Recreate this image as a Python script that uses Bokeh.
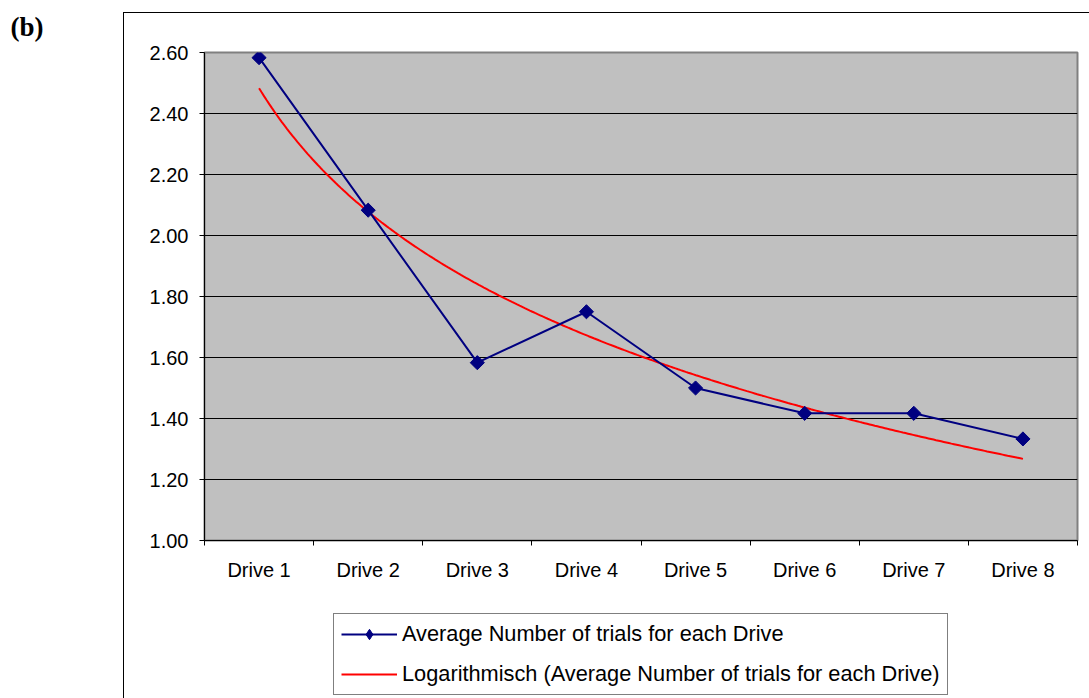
import numpy as np
from bokeh.plotting import figure
from bokeh.layouts import column
from bokeh.models import (FixedTicker, Legend, LegendItem, NumeralTickFormatter)
from bokeh.embed import file_html
from bokeh.resources import INLINE

# ---- data ----
drives = ["Drive 1", "Drive 2", "Drive 3", "Drive 4",
          "Drive 5", "Drive 6", "Drive 7", "Drive 8"]
avg_trials = [2.583, 2.083, 1.583, 1.75, 1.5, 1.417, 1.417, 1.333]
y_ticks = [1.0, 1.2, 1.4, 1.6, 1.8, 2.0, 2.2, 2.4, 2.6]
series_label = "Average Number of trials for each Drive"
trend_label = "Logarithmisch (Average Number of trials for each Drive)"
panel_label = "(b)"

FONT = "Liberation Sans"
NAVY = "#000080"
RED = "#ff0000"

x = np.arange(1, len(drives) + 1)
# logarithmic trendline fitted to the data (as the spreadsheet does)
a, b = np.polyfit(np.log(x), np.array(avg_trials), 1)
xt = np.linspace(1, len(drives), 300)
yt = a * np.log(xt) + b

p = figure(width=1089, height=610,
           x_range=(0.5, len(drives) + 0.5), y_range=(y_ticks[0], y_ticks[-1]),
           output_backend="svg", toolbar_location=None,
           min_border_left=204, min_border_right=12,
           min_border_top=52, min_border_bottom=70)

# outer chart-area frame (drawn behind the transparent canvas border)
p.styles = {
    "background-color": "white",
    "background-image": "linear-gradient(#000,#000), linear-gradient(#000,#000)",
    "background-position": "123px 12px, 123px 12px",
    "background-size": "1px 1000px, 1000px 1px",
    "background-repeat": "no-repeat",
}
p.border_fill_alpha = 0

p.background_fill_color = "#c0c0c0"
p.outline_line_color = "#808080"
p.outline_line_width = 2

# panel label "(b)" as title, shifted to the far left
p.title.text = panel_label
p.title.align = "left"
p.title.vertical_align = "top"
p.title.offset = -194
p.title.standoff = 18
p.title.text_font = "Liberation Serif"
p.title.text_font_style = "bold"
p.title.text_font_size = "27px"
p.title.text_color = "black"

# grid
p.xgrid.grid_line_color = None
p.ygrid.ticker = FixedTicker(ticks=y_ticks[1:-1])
p.ygrid.grid_line_color = "black"
p.ygrid.grid_line_width = 1

# y axis
p.yaxis.ticker = FixedTicker(ticks=y_ticks)
p.yaxis.formatter = NumeralTickFormatter(format="0.00")
p.yaxis.major_tick_out = 5
p.yaxis.major_tick_in = 0
p.yaxis.minor_tick_line_color = None
p.yaxis.major_label_standoff = 11
p.yaxis.major_label_text_font = FONT
p.yaxis.major_label_text_font_size = "20px"
p.yaxis.major_label_text_color = "black"
p.yaxis.axis_line_color = "black"
p.yaxis.major_tick_line_color = "black"

# x axis: ticks between categories, labels centred
p.xaxis.ticker = FixedTicker(ticks=list(x),
                             minor_ticks=[i + 0.5 for i in range(len(drives) + 1)])
p.xaxis.major_label_overrides = {int(i): d for i, d in zip(x, drives)}
p.xaxis.major_tick_line_color = None
p.xaxis.major_tick_out = 0
p.xaxis.major_tick_in = 0
p.xaxis.minor_tick_line_color = "black"
p.xaxis.minor_tick_out = 5
p.xaxis.minor_tick_in = 0
p.xaxis.major_label_standoff = 13
p.xaxis.major_label_text_font = FONT
p.xaxis.major_label_text_font_size = "20px"
p.xaxis.major_label_text_color = "black"
p.xaxis.axis_line_color = "black"

# series
p.line(xt, yt, line_color=RED, line_width=2)
p.line(x, avg_trials, line_color=NAVY, line_width=2)
p.scatter(x, avg_trials, marker="square", size=10, angle=np.pi / 4,
          fill_color=NAVY, line_color=NAVY)

# ---- legend strip below the chart (same chart area) ----
lf = figure(width=1089, height=88, x_range=(0, 1), y_range=(0, 1),
            x_axis_type=None, y_axis_type=None, title=None,
            output_backend="svg", toolbar_location=None, min_border=0)
lf.styles = {
    "background-color": "white",
    "background-image": "linear-gradient(#000,#000)",
    "background-position": "123px 0px",
    "background-size": "1px 200px",
    "background-repeat": "no-repeat",
}
lf.border_fill_alpha = 0
lf.background_fill_alpha = 0
lf.outline_line_color = None
lf.grid.visible = False

# legend-sample renderers (single point placed outside the strip's range)
off = [5.0]
l_ln = lf.line(off, off, line_color=NAVY, line_width=2)
l_mk = lf.scatter(off, off, marker="diamond", size=16,
                  fill_color=NAVY, line_color=NAVY)
l_tr = lf.line(off, off, line_color=RED, line_width=2)

legend = Legend(items=[LegendItem(label=series_label, renderers=[l_ln, l_mk]),
                       LegendItem(label=trend_label, renderers=[l_tr])],
                location=(129, 3), orientation="vertical")
legend.border_line_color = "black"
legend.border_line_width = 1
legend.background_fill_color = "white"
legend.background_fill_alpha = 1
legend.label_text_font = FONT
legend.label_text_font_size = "21.75px"
legend.label_text_color = "black"
legend.glyph_width = 56
legend.glyph_height = 26
legend.label_height = 26
legend.spacing = 14
legend.padding = 7
legend.margin = 0
legend.label_standoff = 5
lf.add_layout(legend)

layout = column(p, lf, spacing=0)
open("out.html", "w").write(file_html(layout, INLINE))
